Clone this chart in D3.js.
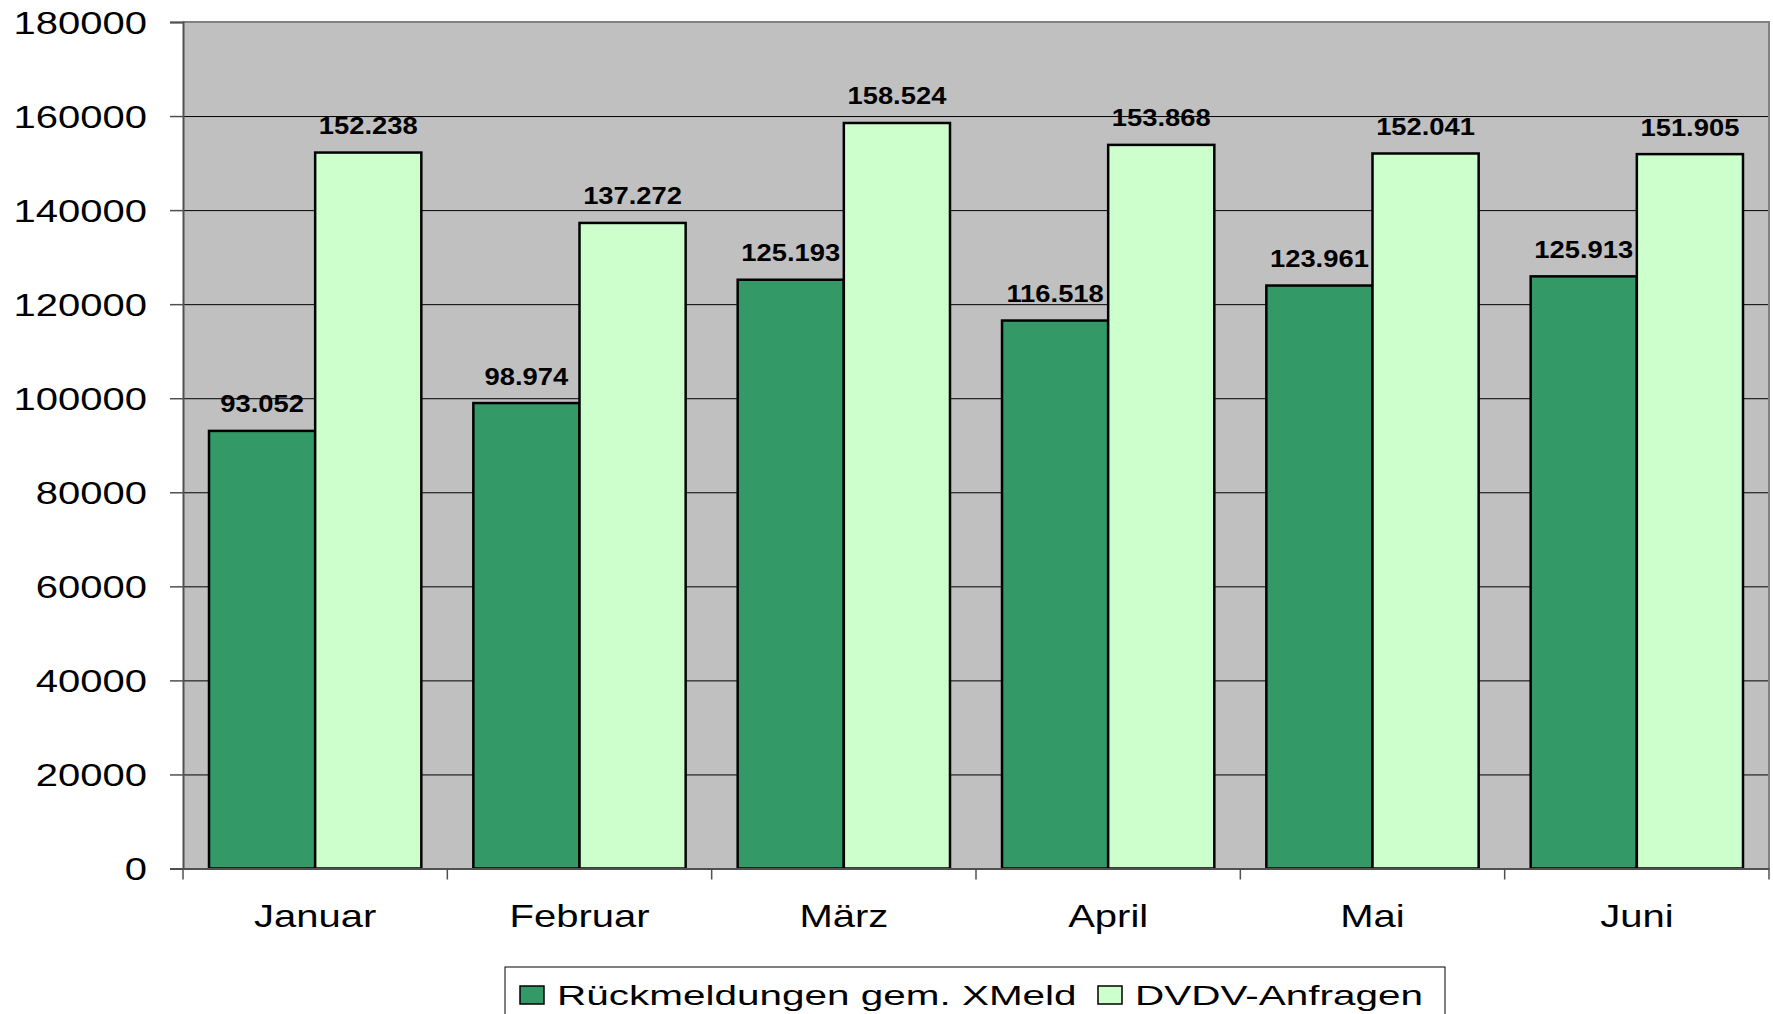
<!DOCTYPE html>
<html lang="de">
<head>
<meta charset="utf-8">
<title>Rückmeldungen und DVDV-Anfragen</title>
<script src="https://cdn.jsdelivr.net/npm/d3@7/dist/d3.min.js"></script>
<style>
  body { margin: 0; background: #fff; }
  text { font-family: "Liberation Sans", Arial, sans-serif; fill: #000; }
</style>
</head>
<body>
<script>
  // data
  var months = ["Januar", "Februar", "März", "April", "Mai", "Juni"];
  var seriesNames = ["Rückmeldungen gem. XMeld", "DVDV-Anfragen"];
  var xmeld = [93052, 98974, 125193, 116518, 123961, 125913];
  var dvdv = [152238, 137272, 158524, 153868, 152041, 151905];
  var yTicks = [0, 20000, 40000, 60000, 80000, 100000, 120000, 140000, 160000, 180000];
  var colors = ["#339966", "#CCFFCC"];

  var width = 1773, height = 1014;
  var plotL = 183, plotR = 1769, plotT = 22, plotB = 868.5;
  var sx = 1.25; // the reference text is stretched sideways

  var svg = d3.select("body").append("svg")
    .attr("width", width)
    .attr("height", height);

  var y = d3.scaleLinear().domain([0, 180000]).range([plotB, plotT]);
  var x0 = d3.scaleBand().domain(months).range([plotL, plotR]);
  var x1 = d3.scaleBand().domain([0, 1]).range([0, x0.bandwidth()]).paddingOuter(0.245);

  // plot area
  svg.append("rect")
    .attr("x", plotL).attr("y", plotT)
    .attr("width", plotR - plotL).attr("height", plotB - plotT)
    .attr("fill", "#C0C0C0");

  // gridlines
  var grid = svg.append("g")
    .attr("transform", "translate(" + plotL + ",0)")
    .call(d3.axisLeft(y).tickValues(yTicks.slice(1, -1)).tickSize(-(plotR - plotL)).tickFormat(""));
  grid.select(".domain").remove();
  grid.selectAll("line").attr("stroke", "#000").attr("stroke-width", 1);

  // top and right border
  svg.append("path")
    .attr("d", "M" + plotL + "," + plotT + "H" + plotR + "V" + plotB)
    .attr("fill", "none").attr("stroke", "#808080").attr("stroke-width", 2);

  // bars
  var rows = months.map(function(m, i) { return { month: m, vals: [xmeld[i], dvdv[i]] }; });
  var groups = svg.selectAll("g.month")
    .data(rows)
    .enter().append("g")
    .attr("class", "month")
    .attr("transform", function(d) { return "translate(" + x0(d.month) + ",0)"; });

  groups.selectAll("rect")
    .data(function(d) { return d.vals; })
    .enter().append("rect")
    .attr("x", function(d, i) { return x1(i); })
    .attr("y", function(d) { return y(d); })
    .attr("width", x1.bandwidth())
    .attr("height", function(d) { return plotB - y(d); })
    .attr("fill", function(d, i) { return colors[i]; })
    .attr("stroke", "#000")
    .attr("stroke-width", 2.5);

  groups.selectAll("text.val")
    .data(function(d) { return d.vals; })
    .enter().append("text")
    .attr("class", "val")
    .attr("transform", function(d, i) {
      return "translate(" + (x1(i) + x1.bandwidth() / 2) + "," + (y(d) - 18.5) + ") scale(1.19,1)";
    })
    .attr("text-anchor", "middle")
    .style("font-size", "23px")
    .style("font-weight", "bold")
    .text(function(d) { return d3.format(",")(d).replace(/,/g, "."); });

  // y axis
  var yAxis = svg.append("g")
    .attr("transform", "translate(" + plotL + ",0)")
    .call(d3.axisLeft(y).tickValues(yTicks).tickSize(13).tickFormat(d3.format("d")));
  yAxis.select(".domain").attr("stroke", "#505050").attr("stroke-width", 2);
  yAxis.selectAll("line").attr("stroke", "#505050").attr("stroke-width", 1.5);
  yAxis.selectAll("text")
    .attr("x", -36 / sx)
    .attr("dy", "0.35em")
    .attr("transform", "scale(" + sx + ",1)")
    .style("font-size", "32px");

  // x axis
  var xAxis = svg.append("g")
    .attr("transform", "translate(0," + plotB + ")")
    .call(d3.axisBottom(x0).tickSize(0).tickPadding(0));
  xAxis.select(".domain").attr("stroke", "#505050").attr("stroke-width", 2);
  xAxis.selectAll(".tick text")
    .attr("y", 59)
    .attr("dy", 0)
    .attr("transform", "scale(" + sx + ",1)")
    .style("font-size", "32px");
  // category boundary ticks
  var bounds = months.map(function(m) { return x0(m); }).concat([x0.range()[1]]);
  xAxis.selectAll("line.bound")
    .data(bounds)
    .enter().append("line")
    .attr("class", "bound")
    .attr("x1", function(d) { return d; }).attr("x2", function(d) { return d; })
    .attr("y1", 0).attr("y2", 11)
    .attr("stroke", "#505050").attr("stroke-width", 1.5);

  // legend
  var legend = svg.append("g");
  legend.append("rect")
    .attr("x", 505).attr("y", 967)
    .attr("width", 940).attr("height", 80)
    .attr("fill", "#fff").attr("stroke", "#000").attr("stroke-width", 1);
  var legX = [520, 1098];
  var items = legend.selectAll("g.item")
    .data(seriesNames)
    .enter().append("g")
    .attr("class", "item")
    .attr("transform", function(d, i) { return "translate(" + legX[i] + ",0)"; });
  items.append("rect")
    .attr("x", 0).attr("y", 986)
    .attr("width", 24).attr("height", 18)
    .attr("fill", function(d, i) { return colors[i]; })
    .attr("stroke", "#000").attr("stroke-width", 1.5);
  items.append("text")
    .attr("transform", "translate(37,1005) scale(1.42,1)")
    .style("font-size", "28.5px")
    .text(function(d) { return d; });
</script>
</body>
</html>
